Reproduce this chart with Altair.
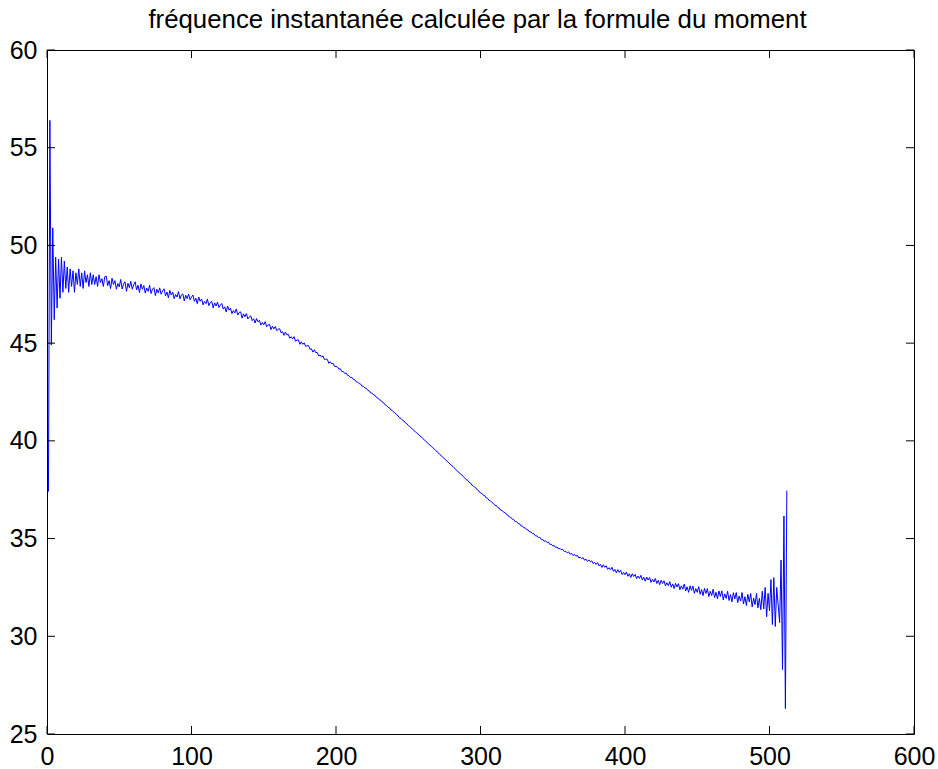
import altair as alt
import pandas as pd

# Instantaneous frequency estimate, one value per sample (n = 1 .. 512)
freq_onset = [
    37.4, 56.4, 44.9, 50.9, 46.2, 49.4, 46.8, 49.3, 47.3, 49.4,
    47.6, 49.2, 47.8, 48.9, 47.6, 48.8, 47.9, 48.7, 47.6, 48.6,
    48.0, 48.8, 47.9, 48.6, 47.8, 48.7, 48.1, 48.5, 47.9, 48.6,
    48.0, 48.5, 48.0, 48.4, 47.9, 48.5, 48.1, 48.3, 47.9, 48.4,
]
freq_plateau = [
    48.43, 47.94, 48.20, 47.79, 48.32, 48.00, 48.20, 47.76, 48.05, 47.88,
    48.26, 47.77, 48.03, 48.14, 47.65, 48.06, 47.84, 48.16, 47.76, 47.99,
    48.14, 47.72, 47.96, 47.59, 48.03, 47.76, 47.95, 47.56, 47.82, 47.65,
    47.96, 47.54, 47.76, 47.84, 47.43, 47.76, 47.57, 47.83, 47.50, 47.68,
    47.78, 47.42, 47.62, 47.32, 47.70, 47.46, 47.61, 47.28, 47.49, 47.36,
    47.64, 47.27, 47.46, 47.52, 47.16, 47.45, 47.28, 47.51, 47.22, 47.36,
    47.46, 47.14, 47.30, 47.02, 47.36, 47.14, 47.26, 46.96, 47.14, 47.02,
    47.26, 46.92, 47.08, 47.14, 46.80, 47.06, 46.90, 47.10, 46.82, 46.95,
    47.03, 46.74, 46.86, 46.60, 46.90, 46.69, 46.79, 46.51, 46.67, 46.55,
    46.75, 46.44, 46.57, 46.60, 46.28, 46.50, 46.35, 46.51, 46.24, 46.34,
    46.40, 46.15, 46.25, 46.03, 46.26, 46.09, 46.17, 45.93, 46.05, 45.94,
    46.10, 45.84, 45.93, 45.96, 45.69, 45.87, 45.73, 45.85, 45.64, 45.71,
    45.74, 45.53, 45.59, 45.40, 45.57, 45.42, 45.45, 45.25, 45.33, 45.22,
    45.33, 45.10, 45.16, 45.17, 44.94, 45.07, 44.94, 45.01, 44.83, 44.87,
    44.88, 44.68, 44.71, 44.54, 44.66, 44.51, 44.53, 44.35, 44.39, 44.29,
    44.35, 44.16, 44.19, 44.17, 43.97, 44.05, 43.94, 43.97, 43.81, 43.81,
]
freq_descent = [
    43.78, 43.67, 43.69, 43.55, 43.55, 43.45, 43.47, 43.35, 43.33, 43.24,
    43.25, 43.14, 43.13, 43.02, 43.01, 42.93, 42.91, 42.80, 42.79, 42.70,
    42.69, 42.58, 42.56, 42.45, 42.44, 42.35, 42.33, 42.22, 42.19, 42.10,
    42.08, 41.98, 41.95, 41.84, 41.81, 41.72, 41.69, 41.58, 41.55, 41.46,
    41.42, 41.33, 41.28, 41.18, 41.15, 41.06, 41.02, 40.92, 40.88, 40.79,
    40.74, 40.65, 40.61, 40.52, 40.47, 40.39, 40.34, 40.25, 40.21, 40.12,
    40.07, 39.98, 39.93, 39.84, 39.79, 39.71, 39.66, 39.57, 39.52, 39.43,
    39.38, 39.29, 39.24, 39.15, 39.10, 39.01, 38.96, 38.87, 38.82, 38.73,
    38.69, 38.59, 38.54, 38.44, 38.40, 38.31, 38.27, 38.17, 38.12, 38.02,
    37.99, 37.89, 37.85, 37.74, 37.70, 37.62, 37.58, 37.47, 37.43, 37.33,
    37.31, 37.21, 37.19, 37.08, 37.05, 36.95, 36.93, 36.84, 36.80, 36.70,
    36.69, 36.58, 36.56, 36.45, 36.44, 36.35, 36.33, 36.22, 36.20, 36.10,
    36.09, 35.99, 35.97, 35.87, 35.87, 35.77, 35.76, 35.65, 35.64, 35.55,
    35.55, 35.45, 35.44, 35.34, 35.34, 35.25, 35.25, 35.14, 35.14, 35.05,
    35.07, 34.96, 34.96, 34.86, 34.89, 34.80, 34.82, 34.70, 34.71, 34.62,
    34.65, 34.55, 34.57, 34.47, 34.50, 34.42, 34.45, 34.33, 34.35, 34.27,
    34.32, 34.20, 34.24, 34.13, 34.19, 34.10, 34.14, 34.01, 34.05, 33.97,
    34.03, 33.89, 33.95, 33.83, 33.91, 33.81, 33.86, 33.72, 33.78, 33.68,
    33.77, 33.60, 33.68, 33.52, 33.66, 33.53, 33.61, 33.43, 33.51, 33.40,
    33.53, 33.32, 33.42, 33.25, 33.41, 33.27, 33.37, 33.16, 33.27, 33.15,
]
freq_tail = [
    33.29, 33.07, 33.20, 33.01, 33.20, 33.06, 33.17, 32.95, 33.08, 32.96,
    33.12, 32.88, 33.02, 32.82, 33.03, 32.88, 33.01, 32.76, 32.92, 32.78,
    32.96, 32.70, 32.86, 32.64, 32.87, 32.70, 32.84, 32.58, 32.74, 32.59,
    32.80, 32.51, 32.68, 32.44, 32.71, 32.52, 32.69, 32.38, 32.58, 32.41,
    32.67, 32.32, 32.53, 32.25, 32.58, 32.35, 32.57, 32.20, 32.44, 32.25,
    32.54, 32.15, 32.39, 32.08, 32.45, 32.19, 32.44, 32.03, 32.30, 32.08,
    32.41, 31.98, 32.25, 31.92, 32.32, 32.04, 32.33, 31.86, 32.17, 31.94,
    32.31, 31.83, 32.13, 31.76, 32.23, 31.91, 32.24, 31.72, 32.06, 31.80,
    32.24, 31.65, 32.03, 31.58, 32.15, 31.76, 32.19, 31.50, 31.96, 31.62,
    32.19, 31.45, 31.94, 31.36, 32.30, 31.40, 32.50, 31.00, 32.20, 31.30,
    32.90, 30.60, 33.00, 30.50, 32.50, 31.60, 30.70, 33.90, 28.30, 36.15,
    26.30, 37.45,
]

x_ticks = [0, 100, 200, 300, 400, 500, 600]
y_ticks = [25, 30, 35, 40, 45, 50, 55, 60]

title_text = "fréquence instantanée calculée par la formule du moment"
FONT = "Liberation Sans"

freq = freq_onset + freq_plateau + freq_descent + freq_tail
df = pd.DataFrame({"n": list(range(1, len(freq) + 1)), "f": freq})
xt = pd.DataFrame({"n": x_ticks})
yt = pd.DataFrame({"f": y_ticks})

W, H = 867, 684
TICK = 8

xs = alt.Scale(domain=[0, 600], nice=False, zero=False)
ys = alt.Scale(domain=[25, 60], nice=False, zero=False)

axis_common = dict(
    title=None, grid=False, ticks=False, domain=False, labelFlush=False,
    labelFont=FONT, labelFontSize=25, labelColor="black", format="d",
)
x_axis = alt.Axis(values=x_ticks, labelPadding=10, **axis_common)
y_axis = alt.Axis(values=y_ticks, labelPadding=10, **axis_common)

line = alt.Chart(df).mark_line(color="#0000ff", strokeWidth=1).encode(
    x=alt.X("n:Q", scale=xs, axis=x_axis),
    y=alt.Y("f:Q", scale=ys, axis=y_axis),
)

# inward tick marks on all four sides of the box
tick_bottom = alt.Chart(xt).mark_rule(color="black", strokeWidth=1).encode(
    x=alt.X("n:Q", scale=xs, axis=x_axis), y=alt.value(H), y2=alt.value(H - TICK)
)
tick_top = alt.Chart(xt).mark_rule(color="black", strokeWidth=1).encode(
    x=alt.X("n:Q", scale=xs, axis=x_axis), y=alt.value(0), y2=alt.value(TICK)
)
tick_left = alt.Chart(yt).mark_rule(color="black", strokeWidth=1).encode(
    y=alt.Y("f:Q", scale=ys, axis=y_axis), x=alt.value(0), x2=alt.value(TICK)
)
tick_right = alt.Chart(yt).mark_rule(color="black", strokeWidth=1).encode(
    y=alt.Y("f:Q", scale=ys, axis=y_axis), x=alt.value(W), x2=alt.value(W - TICK)
)

# heading above the box
heading = alt.Chart(pd.DataFrame({"label": [title_text]})).mark_text(
    font=FONT, fontSize=25.8, color="black", align="center", baseline="alphabetic"
).encode(
    text="label:N", x=alt.value(W / 2 - 3), y=alt.value(-22)
)

chart = (
    alt.layer(line, tick_bottom, tick_top, tick_left, tick_right, heading)
    .properties(
        width=W,
        height=H,
        padding={"left": 47, "top": 50, "right": 24, "bottom": 35},
        autosize=alt.AutoSizeParams(type="none"),
        background="white",
    )
    .configure_view(stroke="black", strokeWidth=1)
)

chart.save("out.html", embed_options={"renderer": "svg", "actions": False})
